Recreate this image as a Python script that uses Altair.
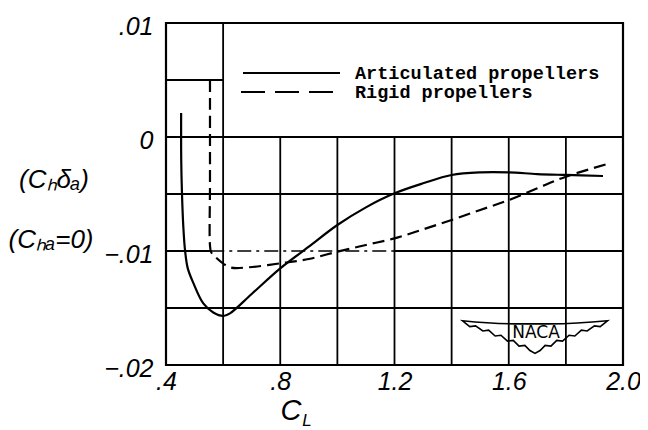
import altair as alt
import pandas as pd

# ---- data ----
series_names = ["Articulated propellers", "Rigid propellers"]

art_cl = [0.453, 0.4533, 0.456, 0.4605, 0.4665, 0.476, 0.4956, 0.5306, 0.5656, 0.6006, 0.624, 0.70,
          0.80, 0.90, 1.00, 1.10, 1.20, 1.30, 1.40, 1.50, 1.60, 1.70, 1.80, 1.93]
art_ch = [0.0021, -0.002, -0.005, -0.0078, -0.0099, -0.0115, -0.0128, -0.0146, -0.0154, -0.0157, -0.01547, -0.01377,
          -0.01152, -0.00962, -0.00772, -0.00617, -0.00494, -0.00406, -0.00333, -0.0031, -0.0031, -0.00325, -0.00333,
          -0.00342]

rig_cl = [0.554, 0.554, 0.554, 0.558, 0.572, 0.624, 0.688, 0.80, 0.90, 1.00, 1.10, 1.20, 1.30, 1.40, 1.50,
          1.60, 1.70, 1.80, 1.954]
rig_ch = [0.005, -0.004, -0.0095, -0.0101, -0.0105, -0.01143, -0.01143, -0.01108, -0.0107, -0.01006, -0.00947,
          -0.00889, -0.0081, -0.00728, -0.0064, -0.00553, -0.0045, -0.00348, -0.00231]

x_ticks = [0.4, 0.8, 1.2, 1.6, 2.0]
y_ticks = [-0.02, -0.01, 0.0, 0.01]

# grid lines (scale values)
vgrid_x = [0.6, 0.8, 1.0, 1.2, 1.4, 1.6, 1.8]
vgrid_lo = [-0.02, -0.02, -0.02, -0.02, -0.02, -0.02, -0.02]
vgrid_hi = [0.01, 0.0, 0.0, 0.0, 0.0, 0.0, 0.0]

hgrid_y = [0.005, 0.0, -0.005, -0.015, -0.01, -0.01]
hgrid_x1 = [0.4, 0.4, 0.4, 0.4, 0.4, 1.2]
hgrid_x2 = [0.6, 2.0, 2.0, 2.0, 0.555, 2.0]
hdash_y = [-0.01]
hdash_x1 = [0.555]
hdash_x2 = [1.2]

# ---- tables ----
art = pd.DataFrame({"cl": art_cl, "ch": art_ch, "order": list(range(len(art_cl)))})
rig = pd.DataFrame({"cl": rig_cl, "ch": rig_ch, "order": list(range(len(rig_cl)))})
vgrid = pd.DataFrame({"x": vgrid_x, "lo": vgrid_lo, "hi": vgrid_hi})
hgrid = pd.DataFrame({"y": hgrid_y, "x1": hgrid_x1, "x2": hgrid_x2})
hdash = pd.DataFrame({"y": hdash_y, "x1": hdash_x1, "x2": hdash_x2})

XS = alt.Scale(domain=[0.4, 2.0], nice=False, zero=False)
YS = alt.Scale(domain=[-0.02, 0.01], nice=False, zero=False)

LABEL_FONT = "Liberation Sans"

x_axis = alt.Axis(values=x_ticks, grid=False, ticks=False, domain=False,
                  labelExpr="replace(format(datum.value, '.1f'), /^0\\./, '.')",
                  labelFont=LABEL_FONT, labelFontStyle="italic", labelFontSize=25,
                  labelColor="black", labelPadding=4, labelFlush=False, labelOverlap=False,
                  title=None)
y_axis = alt.Axis(values=y_ticks, grid=False, ticks=False, domain=False,
                  labelExpr="datum.value == 0 ? '0' : replace(format(datum.value, '.2f'), '0.', '.')",
                  labelFont=LABEL_FONT, labelFontStyle="italic", labelFontSize=25,
                  labelColor="black", labelPadding=13, labelFlush=False, labelOverlap=False,
                  labelOffset=3, title=None)

vrules = alt.Chart(vgrid).mark_rule(color="black", strokeWidth=1.8).encode(
    x=alt.X("x:Q", scale=XS, axis=x_axis),
    y=alt.Y("lo:Q", scale=YS, axis=y_axis),
    y2="hi:Q",
)
hrules = alt.Chart(hgrid).mark_rule(color="black", strokeWidth=1.8).encode(
    x=alt.X("x1:Q", scale=XS, title=None),
    x2="x2:Q",
    y=alt.Y("y:Q", scale=YS, title=None),
)
hdashed = alt.Chart(hdash).mark_rule(color="black", strokeWidth=1.6, strokeDash=[14, 5, 3, 5]).encode(
    x=alt.X("x1:Q", scale=XS, title=None),
    x2="x2:Q",
    y=alt.Y("y:Q", scale=YS, title=None),
)

art_line = alt.Chart(art).mark_line(color="black", strokeWidth=2.2, interpolate="catmull-rom").encode(
    x=alt.X("cl:Q", scale=XS, title=None),
    y=alt.Y("ch:Q", scale=YS, title=None),
    order="order:Q",
)
rig_line = alt.Chart(rig).mark_line(color="black", strokeWidth=2.2, interpolate="catmull-rom",
                                    strokeDash=[12, 6]).encode(
    x=alt.X("cl:Q", scale=XS, title=None),
    y=alt.Y("ch:Q", scale=YS, title=None),
    order="order:Q",
)

# manual legend (annotation)
leg_line1 = alt.Chart(pd.DataFrame({"label": [series_names[0]]})).mark_rule(
    color="black", strokeWidth=2).encode(x=alt.value(77), x2=alt.value(174), y=alt.value(50))
leg_line2 = alt.Chart(pd.DataFrame({"label": [series_names[1]]})).mark_rule(
    color="black", strokeWidth=2, strokeDash=[24, 10]).encode(x=alt.value(75), x2=alt.value(176), y=alt.value(69))
leg_text1 = alt.Chart(pd.DataFrame({"label": [series_names[0]]})).mark_text(
    font="Liberation Mono", fontWeight="bold", fontSize=18.5, align="left", baseline="middle",
    color="black").encode(text="label:N", x=alt.value(189), y=alt.value(50))
leg_text2 = alt.Chart(pd.DataFrame({"label": [series_names[1]]})).mark_text(
    font="Liberation Mono", fontWeight="bold", fontSize=18.5, align="left", baseline="middle",
    color="black").encode(text="label:N", x=alt.value(189), y=alt.value(69))

# y-axis title
yt1 = alt.Chart(pd.DataFrame({"t": ["(Cₕδₐ)"]})).mark_text(
    font=LABEL_FONT, fontStyle="italic", fontSize=26, align="center", baseline="middle",
    color="black").encode(text="t:N", x=alt.value(-112), y=alt.value(157))
yt2 = alt.Chart(pd.DataFrame({"t": ["(Cₕₐ=0)"]})).mark_text(
    font=LABEL_FONT, fontStyle="italic", fontSize=26, align="center", baseline="middle",
    color="black").encode(text="t:N", x=alt.value(-115), y=alt.value(217))

# x-axis title C_L
xt_c = alt.Chart(pd.DataFrame({"t": ["C"]})).mark_text(
    font=LABEL_FONT, fontStyle="italic", fontSize=29, align="center", baseline="middle",
    color="black").encode(text="t:N", x=alt.value(125), y=alt.value(388))
xt_l = alt.Chart(pd.DataFrame({"t": ["L"]})).mark_text(
    font=LABEL_FONT, fontStyle="italic", fontSize=17, align="center", baseline="middle",
    color="black").encode(text="t:N", x=alt.value(141), y=alt.value(398))

# NACA logo
wing = ("M-1,-0.21 C-0.6,-0.17 -0.3,-0.16 0,-0.17 C0.3,-0.16 0.6,-0.17 1,-0.21 "
        "L0.9,-0.13 L0.82,-0.14 L0.72,-0.07 L0.64,-0.08 L0.55,0.0 L0.47,-0.01 L0.38,0.07 "
        "L0.3,0.06 L0.22,0.14 L0.14,0.13 L0.07,0.2 L0,0.24 "
        "L-0.07,0.2 L-0.14,0.13 L-0.22,0.14 L-0.3,0.06 L-0.38,0.07 L-0.47,-0.01 L-0.55,0.0 "
        "L-0.64,-0.08 L-0.72,-0.07 L-0.82,-0.14 L-0.9,-0.13 Z")
logo_shape = alt.Chart(pd.DataFrame({"t": ["NACA"]})).mark_point(
    shape=wing, size=21000, filled=False, stroke="black", strokeWidth=1.6, opacity=1).encode(
    x=alt.value(369), y=alt.value(313))
logo_text = alt.Chart(pd.DataFrame({"t": ["NACA"]})).mark_text(
    font="DejaVu Sans", fontSize=17, align="center", baseline="middle", color="black").encode(
    text="t:N", x=alt.value(370), y=alt.value(310))

chart = alt.layer(
    vrules, hrules, hdashed, art_line, rig_line, leg_line1, leg_line2, leg_text1, leg_text2,
    yt1, yt2, xt_c, xt_l, logo_shape, logo_text
).properties(
    width=457, height=342,
    padding={"left": 158, "top": 15, "right": 17, "bottom": 65},
    autosize=alt.AutoSizeParams(type="none"),
    background="white",
).configure_view(stroke="black", strokeWidth=2.2)

chart.save("out.html", embed_options={"renderer": "svg", "actions": False})
